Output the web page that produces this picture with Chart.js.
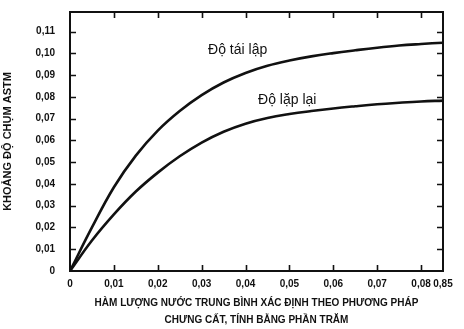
<!DOCTYPE html>
<html lang="vi">
<head>
<meta charset="utf-8">
<title>Khoảng độ chụm ASTM</title>
<script src="https://cdn.jsdelivr.net/npm/chart.js@4.4.1/dist/chart.umd.min.js"></script>
<style>
  html, body { margin: 0; padding: 0; background: #fff; }
  #wrap { position: relative; width: 464px; height: 329px; }
</style>
</head>
<body>
<div id="wrap"><canvas id="astmChart"></canvas></div>
<script>
// hàm lượng nước (%)
const waterContent = [0, 0.005, 0.01, 0.015, 0.02, 0.025, 0.03, 0.035, 0.04, 0.045,
    0.05, 0.055, 0.06, 0.065, 0.07, 0.075, 0.08, 0.085];
// độ tái lập
const reproducibility = [0, 0.020, 0.0385, 0.053, 0.0645, 0.0735, 0.0808, 0.0866, 0.091, 0.0943,
    0.0967, 0.0986, 0.1001, 0.1014, 0.1026, 0.1036, 0.1043, 0.1049];
// độ lặp lại
const repeatability = [0, 0.014, 0.026, 0.0365, 0.0452, 0.0527, 0.059, 0.064, 0.0677, 0.0703,
    0.0721, 0.0735, 0.0747, 0.0757, 0.0766, 0.0773, 0.0779, 0.0783];

const xTickValues = [0, 0.01, 0.02, 0.03, 0.04, 0.05, 0.06, 0.07, 0.08, 0.085];
const xTickLabels = ["0", "0,01", "0,02", "0,03", "0,04", "0,05", "0,06", "0,07", "0,08", "0,85"];
const yTickValues = [0, 0.01, 0.02, 0.03, 0.04, 0.05, 0.06, 0.07, 0.08, 0.09, 0.10, 0.11];
const yTickLabels = ["0", "0,01", "0,02", "0,03", "0,04", "0,05", "0,06", "0,07", "0,08", "0,09", "0,10", "0,11"];

const curveLabels = [
    { text: "Độ tái lập", x: 0.0382, y: 0.1013 },
    { text: "Độ lặp lại", x: 0.0495, y: 0.0783 }
];

const toPoints = ys => ys.map((y, i) => ({ x: waterContent[i], y: y }));

// khung viền và vạch chia hướng vào trong
const framePlugin = {
    id: "frame",
    afterDatasetsDraw(chart) {
        const { ctx, chartArea: a, scales: { x, y } } = chart;
        ctx.save();
        ctx.strokeStyle = "#111";
        ctx.lineWidth = 2;
        ctx.strokeRect(a.left, a.top, a.right - a.left, a.bottom - a.top);
        ctx.lineWidth = 1.6;
        ctx.beginPath();
        xTickValues.slice(1, -1).forEach(v => {
            const px = Math.round(x.getPixelForValue(v)) + 0.5;
            ctx.moveTo(px, a.bottom); ctx.lineTo(px, a.bottom - 6);
            ctx.moveTo(px, a.top); ctx.lineTo(px, a.top + 6);
        });
        yTickValues.slice(1).forEach(v => {
            const py = Math.round(y.getPixelForValue(v)) + 0.5;
            ctx.moveTo(a.left, py); ctx.lineTo(a.left + 6, py);
            ctx.moveTo(a.right, py); ctx.lineTo(a.right - 6, py);
        });
        ctx.stroke();

        // nhãn đường cong
        ctx.fillStyle = "#111";
        ctx.font = "14px 'Liberation Sans', Arial, sans-serif";
        ctx.textAlign = "center";
        ctx.textBaseline = "middle";
        curveLabels.forEach(l => {
            ctx.fillText(l.text, x.getPixelForValue(l.x), y.getPixelForValue(l.y));
        });
        ctx.restore();
    }
};

const boldFont = { family: "'Liberation Sans', Arial, sans-serif", size: 10, weight: "bold" };

new Chart(document.getElementById("astmChart"), {
    type: "line",
    data: {
        datasets: [
            {
                label: "Độ tái lập",
                data: toPoints(reproducibility),
                borderColor: "#111",
                borderWidth: 2.6,
                pointRadius: 0,
                tension: 0.4
            },
            {
                label: "Độ lặp lại",
                data: toPoints(repeatability),
                borderColor: "#111",
                borderWidth: 2.6,
                pointRadius: 0,
                tension: 0.4
            }
        ]
    },
    options: {
        responsive: true,
        maintainAspectRatio: false,
        animation: false,
        layout: { padding: { left: 0, right: 21, top: 12, bottom: 0 } },
        plugins: {
            legend: { display: false },
            tooltip: { enabled: false }
        },
        scales: {
            x: {
                type: "linear",
                min: 0,
                max: 0.085,
                afterBuildTicks: s => { s.ticks = xTickValues.map(v => ({ value: v })); },
                afterFit: s => { s.height = 58; s.paddingLeft = 0; s.paddingRight = 0; },
                grid: { display: false, drawTicks: false, tickLength: 0 },
                border: { display: false },
                ticks: {
                    color: "#111",
                    font: boldFont,
                    padding: 7,
                    maxRotation: 0,
                    autoSkip: false,
                    callback: (v, i) => xTickLabels[i]
                },
                title: {
                    display: true,
                    text: ["HÀM LƯỢNG NƯỚC TRUNG BÌNH XÁC ĐỊNH THEO PHƯƠNG PHÁP",
                           "CHƯNG CẤT, TÍNH BẰNG PHẦN TRĂM"],
                    color: "#111",
                    font: { ...boldFont, lineHeight: 1.7 },
                    padding: { top: 0, bottom: 0.5 }
                }
            },
            y: {
                min: 0,
                max: 0.119,
                afterBuildTicks: s => { s.ticks = yTickValues.map(v => ({ value: v })); },
                afterFit: s => { s.width = 70; s.paddingTop = 0; s.paddingBottom = 0; },
                grid: { display: false, drawTicks: false, tickLength: 0 },
                border: { display: false },
                ticks: {
                    color: "#111",
                    font: boldFont,
                    padding: 15,
                    autoSkip: false,
                    callback: (v, i) => yTickLabels[i]
                },
                title: {
                    display: true,
                    text: "KHOẢNG ĐỘ CHỤM ASTM",
                    color: "#111",
                    font: { ...boldFont, size: 11 },
                    padding: { top: 1.5, bottom: 0 }
                }
            }
        }
    },
    plugins: [framePlugin]
});
</script>
</body>
</html>
